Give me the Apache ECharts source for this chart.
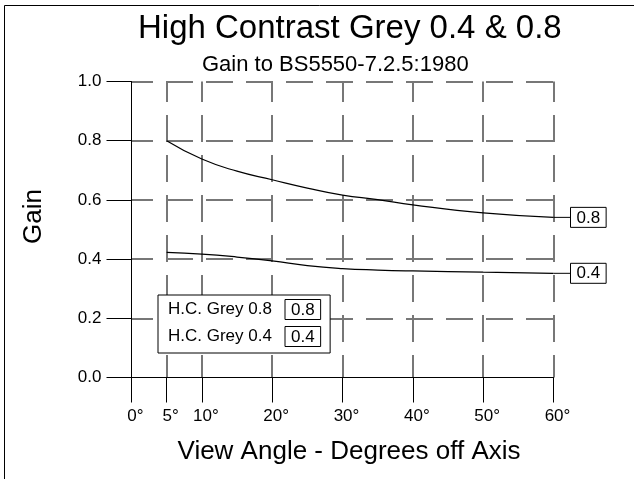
<!DOCTYPE html>
<html>
<head>
<meta charset="utf-8">
<script src="https://cdn.jsdelivr.net/npm/echarts@6.0.0/dist/echarts.min.js"></script>
<style>
  html, body { margin: 0; padding: 0; background: #fff; }
  #chart { width: 634px; height: 479px; }
</style>
</head>
<body>
<div id="chart"></div>
<script>
// ---- data ----
const titleText = 'High Contrast Grey 0.4 & 0.8';
const subtitleText = 'Gain to BS5550-7.2.5:1980';
const xAxisName = 'View Angle - Degrees off Axis';
const yAxisName = 'Gain';
const xTickValues = [0, 5, 10, 20, 30, 40, 50, 60];
const xGridValues = [5, 10, 20, 30, 40, 50, 60];
const yGridValues = [0.2, 0.4, 0.6, 0.8, 1.0];
const seriesNames = ['H.C. Grey 0.8', 'H.C. Grey 0.4'];
const seriesTags = ['0.8', '0.4'];
const angles08 = [5, 10, 15, 20, 25, 30, 35, 40, 50, 60];
const gain08 = [0.800, 0.738, 0.697, 0.668, 0.640, 0.616, 0.601, 0.583, 0.556, 0.541];
const angles04 = [5, 10, 15, 20, 25, 30, 35, 40, 50, 60];
const gain04 = [0.423, 0.417, 0.407, 0.394, 0.378, 0.368, 0.363, 0.360, 0.356, 0.352];

const FONT = 'Liberation Sans';
const chart = echarts.init(document.getElementById('chart'), null, { renderer: 'canvas' });

const pairs = (xs, ys) => xs.map((x, i) => [x, ys[i]]);
const tagRich = {
  ln: { width: 17, height: 1, backgroundColor: '#000', verticalAlign: 'middle' },
  box: { fontSize: 17, fontFamily: FONT, color: '#000', borderColor: '#000', borderWidth: 1, padding: [2, 6, 1, 6] }
};
const gridDash = { color: '#777', width: 2, type: [27, 13] };

function makeSeries(idx, xs, ys) {
  return {
    name: seriesNames[idx],
    type: 'line',
    data: pairs(xs, ys),
    xAxisIndex: 0, yAxisIndex: 0,
    smooth: 0.5,
    showSymbol: false,
    symbol: 'none',
    z: 5,
    lineStyle: { color: '#000', width: 1.2 },
    itemStyle: { color: '#000' },
    endLabel: {
      show: true,
      distance: 0,
      formatter: () => '{ln| }{box|' + seriesTags[idx] + '}',
      rich: tagRich
    },
    emphasis: { disabled: true }
  };
}

const option = {
  animation: false,
  backgroundColor: '#fff',
  graphic: [{
    type: 'rect', silent: true, z: 100,
    shape: { x: 4.5, y: 5.5, width: 1000, height: 1000 },
    style: { fill: 'none', stroke: '#000', lineWidth: 1 }
  }],
  title: [
    { text: titleText, left: 138, top: 12, padding: 0,
      textStyle: { fontSize: 33, fontWeight: 'normal', color: '#000', fontFamily: FONT } },
    { text: subtitleText, left: 202, top: 54, padding: 0,
      textStyle: { fontSize: 22, fontWeight: 'normal', color: '#000', fontFamily: FONT } }
  ],
  legend: {
    orient: 'vertical',
    left: 158, top: 295,
    padding: [4, 9, 6, 5],
    itemGap: 6,
    itemWidth: 0, itemHeight: 20,
    icon: 'rect',
    itemStyle: { opacity: 0, borderWidth: 0 },
    lineStyle: { opacity: 0 },
    backgroundColor: '#fff',
    borderColor: '#000', borderWidth: 1, borderRadius: 0,
    selectedMode: false,
    data: seriesNames,
    formatter: name => '{n|' + name + '}{box|' + seriesTags[seriesNames.indexOf(name)] + '}',
    textStyle: {
      color: '#000', fontFamily: FONT, fontSize: 17,
      rich: {
        n: { width: 117, fontSize: 17, fontFamily: FONT, color: '#000' },
        box: tagRich.box
      }
    },
    z: 10
  },
  grid: { left: 131.5, top: 81.5, width: 422, height: 296 },
  xAxis: [
    {
      type: 'value', min: 0, max: 60, interval: 10, z: 3,
      position: 'bottom',
      name: xAxisName, nameLocation: 'middle', nameGap: 61,
      nameTextStyle: { fontSize: 26, fontFamily: FONT, color: '#000', padding: [0, 0, 0, 13] },
      axisLine: { show: true, lineStyle: { color: '#000', width: 1 } },
      axisTick: { show: true, length: 25, inside: false, customValues: xTickValues, lineStyle: { color: '#000', width: 1 } },
      axisLabel: { show: true, customValues: xTickValues, margin: 30, fontSize: 17, fontFamily: FONT, color: '#000',
        padding: [0, 0, 0, 8], formatter: v => v + '°' },
      splitLine: { show: false }
    },
    {
      type: 'value', min: 0, max: 60, interval: 10, z: 0,
      position: 'bottom',
      axisLine: { show: false },
      axisTick: { show: false, customValues: xGridValues },
      axisLabel: { show: false },
      splitLine: { show: true, lineStyle: Object.assign({}, gridDash, { dashOffset: 6.5 }) }
    }
  ],
  yAxis: [
    {
      type: 'value', min: 0, max: 1, interval: 0.2, z: 3,
      position: 'left',
      name: yAxisName, nameLocation: 'middle', nameGap: 85,
      nameTextStyle: { fontSize: 26, fontFamily: FONT, color: '#000', padding: [0, 0, 0, 26] },
      axisLine: { show: true, onZero: false, lineStyle: { color: '#000', width: 1 } },
      axisTick: { show: true, length: 25, inside: false, lineStyle: { color: '#000', width: 1 } },
      axisLabel: { show: true, margin: 30, fontSize: 17, fontFamily: FONT, color: '#000', formatter: v => v.toFixed(1) },
      splitLine: { show: false }
    },
    {
      type: 'value', min: 0, max: 1, interval: 0.2, z: 0,
      position: 'left',
      axisLine: { show: false },
      axisTick: { show: false, customValues: yGridValues },
      axisLabel: { show: false },
      splitLine: { show: true, lineStyle: Object.assign({}, gridDash, { dashOffset: 5.5 }) }
    }
  ],
  series: [
    makeSeries(0, angles08, gain08),
    makeSeries(1, angles04, gain04)
  ]
};
chart.setOption(option);
</script>
</body>
</html>
